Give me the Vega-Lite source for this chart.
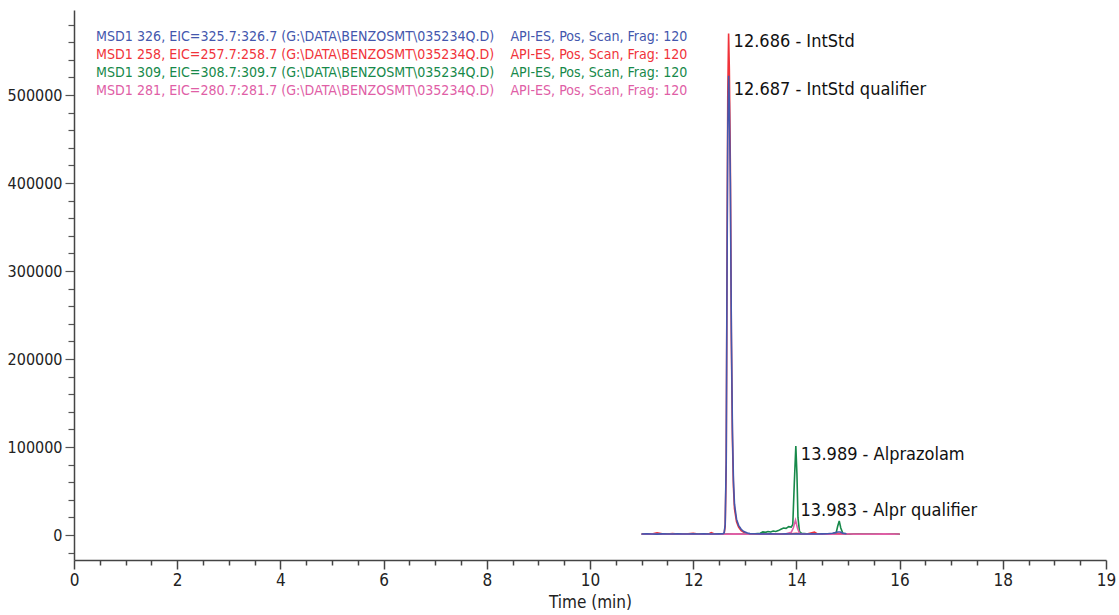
{
  "$schema": "https://vega.github.io/schema/vega-lite/v6.json",
  "autosize": "none",
  "width": 1032,
  "height": 550,
  "padding": {"left": 74, "top": 10, "right": 13, "bottom": 55},
  "background": "white",
  "config": {"view": {"stroke": null}, "font": "DejaVu Sans Condensed, Liberation Sans, sans-serif"},
  "datasets": {
    "traces": [
      {"t": 11.0, "v": 1200, "s": "258"}, {"t": 11.1, "v": 1500, "s": "258"}, {"t": 11.2, "v": 1000, "s": "258"}, {"t": 11.3, "v": 2500, "s": "258"}, {"t": 11.4, "v": 1300, "s": "258"}, {"t": 11.5, "v": 1100, "s": "258"}, {"t": 11.6, "v": 1600, "s": "258"}, {"t": 11.7, "v": 1200, "s": "258"}, {"t": 11.8, "v": 1000, "s": "258"}, {"t": 11.9, "v": 1400, "s": "258"}, {"t": 12.0, "v": 1800, "s": "258"}, {"t": 12.1, "v": 1200, "s": "258"}, {"t": 12.2, "v": 1100, "s": "258"}, {"t": 12.3, "v": 1300, "s": "258"}, {"t": 12.35, "v": 2800, "s": "258"}, {"t": 12.4, "v": 1500, "s": "258"}, {"t": 12.5, "v": 1100, "s": "258"}, {"t": 12.58, "v": 1300, "s": "258"},
      {"t": 12.6, "v": 2000, "s": "258"}, {"t": 12.62, "v": 10000, "s": "258"}, {"t": 12.64, "v": 80000, "s": "258"}, {"t": 12.655, "v": 300000, "s": "258"}, {"t": 12.67, "v": 500000, "s": "258"}, {"t": 12.686, "v": 570000, "s": "258"}, {"t": 12.70, "v": 530000, "s": "258"}, {"t": 12.72, "v": 420000, "s": "258"}, {"t": 12.74, "v": 220000, "s": "258"}, {"t": 12.76, "v": 110000, "s": "258"}, {"t": 12.78, "v": 55000, "s": "258"}, {"t": 12.80, "v": 30000, "s": "258"}, {"t": 12.84, "v": 15000, "s": "258"}, {"t": 12.88, "v": 9000, "s": "258"}, {"t": 12.93, "v": 5000, "s": "258"}, {"t": 12.98, "v": 3000, "s": "258"},
      {"t": 13.05, "v": 1500, "s": "258"}, {"t": 13.1, "v": 1200, "s": "258"}, {"t": 13.2, "v": 1000, "s": "258"}, {"t": 13.3, "v": 1200, "s": "258"}, {"t": 13.4, "v": 900, "s": "258"}, {"t": 13.5, "v": 1100, "s": "258"}, {"t": 13.6, "v": 1300, "s": "258"}, {"t": 13.7, "v": 1000, "s": "258"}, {"t": 13.8, "v": 1200, "s": "258"}, {"t": 13.9, "v": 1500, "s": "258"}, {"t": 14.0, "v": 1800, "s": "258"}, {"t": 14.1, "v": 1200, "s": "258"}, {"t": 14.2, "v": 1000, "s": "258"}, {"t": 14.3, "v": 2500, "s": "258"}, {"t": 14.35, "v": 3200, "s": "258"}, {"t": 14.4, "v": 1500, "s": "258"}, {"t": 14.5, "v": 1100, "s": "258"}, {"t": 14.6, "v": 1000, "s": "258"}, {"t": 14.7, "v": 1300, "s": "258"}, {"t": 14.8, "v": 1600, "s": "258"}, {"t": 14.9, "v": 1200, "s": "258"}, {"t": 15.0, "v": 1000, "s": "258"}, {"t": 15.1, "v": 1100, "s": "258"}, {"t": 15.2, "v": 1400, "s": "258"}, {"t": 15.3, "v": 1000, "s": "258"}, {"t": 15.4, "v": 1200, "s": "258"}, {"t": 15.5, "v": 900, "s": "258"}, {"t": 15.6, "v": 1300, "s": "258"}, {"t": 15.7, "v": 1100, "s": "258"}, {"t": 15.8, "v": 1000, "s": "258"}, {"t": 15.9, "v": 1200, "s": "258"}, {"t": 16.0, "v": 1000, "s": "258"},

      {"t": 11.0, "v": 900, "s": "309"}, {"t": 11.5, "v": 1000, "s": "309"}, {"t": 12.0, "v": 900, "s": "309"}, {"t": 12.5, "v": 1000, "s": "309"}, {"t": 12.6, "v": 1000, "s": "309"}, {"t": 12.68, "v": 1500, "s": "309"}, {"t": 12.8, "v": 1200, "s": "309"}, {"t": 13.0, "v": 1100, "s": "309"}, {"t": 13.2, "v": 1300, "s": "309"},
      {"t": 13.3, "v": 2000, "s": "309"}, {"t": 13.35, "v": 3500, "s": "309"}, {"t": 13.4, "v": 3000, "s": "309"}, {"t": 13.45, "v": 4000, "s": "309"}, {"t": 13.5, "v": 3500, "s": "309"}, {"t": 13.55, "v": 4500, "s": "309"}, {"t": 13.6, "v": 4000, "s": "309"}, {"t": 13.65, "v": 5000, "s": "309"}, {"t": 13.7, "v": 6500, "s": "309"}, {"t": 13.75, "v": 8000, "s": "309"}, {"t": 13.8, "v": 7500, "s": "309"}, {"t": 13.85, "v": 9500, "s": "309"}, {"t": 13.9, "v": 9000, "s": "309"}, {"t": 13.93, "v": 12000, "s": "309"}, {"t": 13.96, "v": 60000, "s": "309"}, {"t": 13.989, "v": 101000, "s": "309"}, {"t": 14.01, "v": 70000, "s": "309"}, {"t": 14.03, "v": 20000, "s": "309"}, {"t": 14.06, "v": 4000, "s": "309"}, {"t": 14.1, "v": 2000, "s": "309"}, {"t": 14.2, "v": 1500, "s": "309"}, {"t": 14.3, "v": 1200, "s": "309"}, {"t": 14.4, "v": 1400, "s": "309"}, {"t": 14.5, "v": 1200, "s": "309"}, {"t": 14.6, "v": 1300, "s": "309"}, {"t": 14.7, "v": 1500, "s": "309"}, {"t": 14.77, "v": 2500, "s": "309"}, {"t": 14.8, "v": 10000, "s": "309"}, {"t": 14.83, "v": 16000, "s": "309"}, {"t": 14.86, "v": 8000, "s": "309"}, {"t": 14.9, "v": 2000, "s": "309"}, {"t": 15.0, "v": 1200, "s": "309"}, {"t": 15.2, "v": 1000, "s": "309"}, {"t": 15.5, "v": 1100, "s": "309"}, {"t": 15.8, "v": 1000, "s": "309"}, {"t": 16.0, "v": 900, "s": "309"},

      {"t": 11.0, "v": 1000, "s": "281"}, {"t": 11.2, "v": 1300, "s": "281"}, {"t": 11.4, "v": 900, "s": "281"}, {"t": 11.6, "v": 1200, "s": "281"}, {"t": 11.8, "v": 1000, "s": "281"}, {"t": 12.0, "v": 1100, "s": "281"}, {"t": 12.2, "v": 900, "s": "281"}, {"t": 12.4, "v": 1200, "s": "281"}, {"t": 12.6, "v": 1000, "s": "281"}, {"t": 12.8, "v": 1300, "s": "281"}, {"t": 13.0, "v": 1000, "s": "281"}, {"t": 13.2, "v": 1100, "s": "281"}, {"t": 13.4, "v": 1000, "s": "281"}, {"t": 13.6, "v": 1200, "s": "281"}, {"t": 13.8, "v": 1500, "s": "281"}, {"t": 13.9, "v": 3000, "s": "281"}, {"t": 13.94, "v": 8000, "s": "281"}, {"t": 13.983, "v": 17000, "s": "281"}, {"t": 14.02, "v": 8000, "s": "281"}, {"t": 14.06, "v": 2000, "s": "281"}, {"t": 14.1, "v": 1200, "s": "281"}, {"t": 14.3, "v": 1000, "s": "281"}, {"t": 14.5, "v": 1200, "s": "281"}, {"t": 14.7, "v": 900, "s": "281"}, {"t": 14.9, "v": 1100, "s": "281"}, {"t": 15.0, "v": 1500, "s": "281"}, {"t": 15.1, "v": 1000, "s": "281"}, {"t": 15.3, "v": 1200, "s": "281"}, {"t": 15.5, "v": 1000, "s": "281"}, {"t": 15.7, "v": 1300, "s": "281"}, {"t": 15.9, "v": 1000, "s": "281"}, {"t": 16.0, "v": 1100, "s": "281"},

      {"t": 11.0, "v": 1100, "s": "326"}, {"t": 11.1, "v": 1300, "s": "326"}, {"t": 11.2, "v": 1200, "s": "326"}, {"t": 11.3, "v": 1000, "s": "326"}, {"t": 11.4, "v": 1300, "s": "326"}, {"t": 11.5, "v": 1200, "s": "326"}, {"t": 11.6, "v": 1100, "s": "326"}, {"t": 11.7, "v": 1300, "s": "326"}, {"t": 11.8, "v": 1200, "s": "326"}, {"t": 11.9, "v": 1100, "s": "326"}, {"t": 12.0, "v": 1300, "s": "326"}, {"t": 12.1, "v": 1200, "s": "326"}, {"t": 12.2, "v": 1400, "s": "326"}, {"t": 12.3, "v": 1200, "s": "326"}, {"t": 12.4, "v": 1100, "s": "326"}, {"t": 12.5, "v": 1300, "s": "326"}, {"t": 12.58, "v": 1500, "s": "326"},
      {"t": 12.6, "v": 2500, "s": "326"}, {"t": 12.62, "v": 12000, "s": "326"}, {"t": 12.64, "v": 85000, "s": "326"}, {"t": 12.655, "v": 290000, "s": "326"}, {"t": 12.67, "v": 460000, "s": "326"}, {"t": 12.687, "v": 522000, "s": "326"}, {"t": 12.70, "v": 490000, "s": "326"}, {"t": 12.72, "v": 400000, "s": "326"}, {"t": 12.74, "v": 230000, "s": "326"}, {"t": 12.76, "v": 120000, "s": "326"}, {"t": 12.78, "v": 62000, "s": "326"}, {"t": 12.80, "v": 35000, "s": "326"}, {"t": 12.84, "v": 18000, "s": "326"}, {"t": 12.88, "v": 11000, "s": "326"}, {"t": 12.93, "v": 6500, "s": "326"}, {"t": 12.98, "v": 4000, "s": "326"},
      {"t": 13.05, "v": 2200, "s": "326"}, {"t": 13.1, "v": 1600, "s": "326"}, {"t": 13.2, "v": 1400, "s": "326"}, {"t": 13.3, "v": 1300, "s": "326"}, {"t": 13.4, "v": 1200, "s": "326"}, {"t": 13.5, "v": 1300, "s": "326"}, {"t": 13.6, "v": 1200, "s": "326"}, {"t": 13.7, "v": 1100, "s": "326"}, {"t": 13.8, "v": 1300, "s": "326"}, {"t": 13.9, "v": 1200, "s": "326"}, {"t": 14.0, "v": 1400, "s": "326"}, {"t": 14.1, "v": 1200, "s": "326"}, {"t": 14.2, "v": 1100, "s": "326"}, {"t": 14.3, "v": 1300, "s": "326"}, {"t": 14.4, "v": 1200, "s": "326"}, {"t": 14.5, "v": 1300, "s": "326"}, {"t": 14.6, "v": 1400, "s": "326"}, {"t": 14.7, "v": 2000, "s": "326"}, {"t": 14.8, "v": 3500, "s": "326"}, {"t": 14.85, "v": 3500, "s": "326"}, {"t": 14.9, "v": 2000, "s": "326"}, {"t": 14.97, "v": 1500, "s": "326"}
    ],
    "labels": [
      {"t": 12.686, "v": 560000, "text": "12.686 - IntStd"},
      {"t": 12.687, "v": 505700, "text": "12.687 - IntStd qualifier"},
      {"t": 13.989, "v": 90900, "text": "13.989 - Alprazolam"},
      {"t": 13.983, "v": 27300, "text": "13.983 - Alpr qualifier"}
    ]
  },
  "layer": [
    {
      "data": {"name": "traces"},
      "mark": {"type": "line", "strokeWidth": 1.6, "clip": true},
      "encoding": {
        "x": {
          "field": "t", "type": "quantitative",
          "scale": {"domain": [0, 20], "nice": false, "zero": false},
          "axis": {
            "title": "Time (min)",
            "titleFontSize": 17, "titleFontWeight": "normal", "titleColor": "#222", "titlePadding": 6,
            "tickCount": 100,
            "values": [0,0.5,1,1.5,2,2.5,3,3.5,4,4.5,5,5.5,6,6.5,7,7.5,8,8.5,9,9.5,10,10.5,11,11.5,12,12.5,13,13.5,14,14.5,15,15.5,16,16.5,17,17.5,18,18.5,19,19.5,20],
            "labelExpr": "datum.value === 20 ? '19' : (datum.value % 2 === 0 ? format(datum.value, 'd') : '')",
            "labelFontSize": 17, "labelColor": "#222", "labelPadding": 3,
            "labelOverlap": false, "labelFlush": false,
            "tickSize": {"condition": {"test": "datum.value % 2 === 0", "value": 9}, "value": 5},
            "tickColor": "#444", "tickWidth": 1.5,
            "domainColor": "#444", "domainWidth": 1.5, "grid": false
          }
        },
        "y": {
          "field": "v", "type": "quantitative",
          "scale": {"domain": [-28400, 596600], "nice": false, "zero": false},
          "axis": {
            "title": null,
            "tickCount": 100,
            "values": [-20000,0,20000,40000,60000,80000,100000,120000,140000,160000,180000,200000,220000,240000,260000,280000,300000,320000,340000,360000,380000,400000,420000,440000,460000,480000,500000,520000,540000,560000,580000],
            "labelExpr": "datum.value % 100000 === 0 ? format(datum.value, 'd') : ''",
            "labelFontSize": 16, "labelColor": "#222", "labelPadding": 3,
            "labelOverlap": false,
            "tickSize": {"condition": {"test": "datum.value % 100000 === 0", "value": 9}, "value": 6},
            "tickColor": "#555", "tickWidth": 1.2,
            "domainColor": "#444", "domainWidth": 1.5, "grid": false
          }
        },
        "color": {
          "field": "s", "type": "nominal",
          "scale": {"domain": ["326", "258", "309", "281"], "range": ["#4457ad", "#f0333a", "#17894a", "#e05ea6"]},
          "legend": {
            "title": null, "orient": "none", "legendX": 8, "legendY": 20,
            "padding": 0, "rowPadding": 3,
            "symbolSize": 0, "symbolOpacity": 0, "symbolStrokeWidth": 0, "labelOffset": 0,
            "labelFontSize": 14.1, "labelLimit": 0,
            "labelExpr": "{'326': 'MSD1 326, EIC=325.7:326.7 (G:\\\\DATA\\\\BENZOSMT\\\\035234Q.D)\u00a0\u00a0\u00a0\u00a0API-ES, Pos, Scan, Frag: 120', '258': 'MSD1 258, EIC=257.7:258.7 (G:\\\\DATA\\\\BENZOSMT\\\\035234Q.D)\u00a0\u00a0\u00a0\u00a0API-ES, Pos, Scan, Frag: 120', '309': 'MSD1 309, EIC=308.7:309.7 (G:\\\\DATA\\\\BENZOSMT\\\\035234Q.D)\u00a0\u00a0\u00a0\u00a0API-ES, Pos, Scan, Frag: 120', '281': 'MSD1 281, EIC=280.7:281.7 (G:\\\\DATA\\\\BENZOSMT\\\\035234Q.D)\u00a0\u00a0\u00a0\u00a0API-ES, Pos, Scan, Frag: 120'}[datum.value]",
            "encode": {"labels": {"update": {"fill": {"scale": "color", "field": "value"}}}}
          }
        }
      }
    },
    {
      "data": {"name": "labels"},
      "mark": {"type": "text", "align": "left", "baseline": "middle", "fontSize": 18, "color": "#111", "dx": 5},
      "encoding": {
        "x": {"field": "t", "type": "quantitative"},
        "y": {"field": "v", "type": "quantitative"},
        "text": {"field": "text"}
      }
    }
  ]
}
